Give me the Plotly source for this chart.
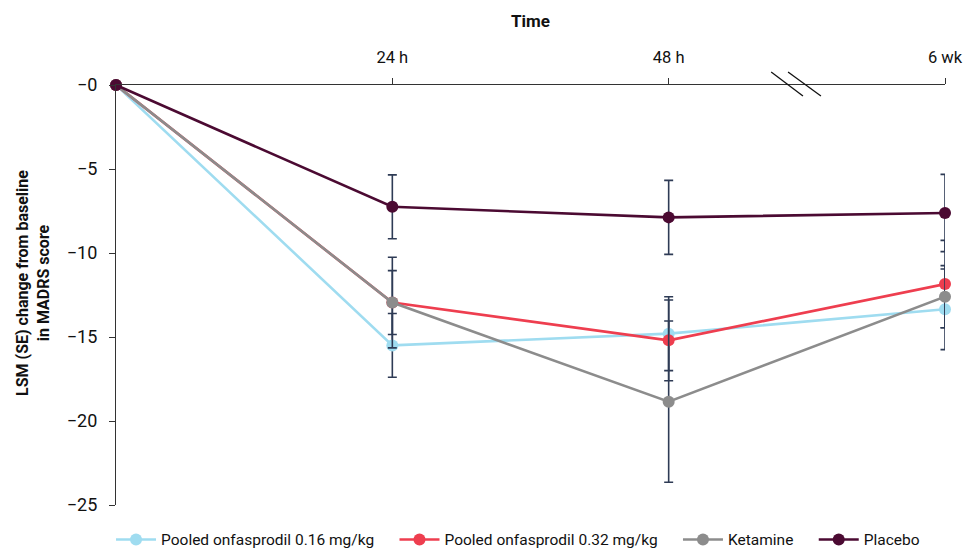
import plotly.graph_objects as go

# Data
time_pos = [0, 1, 2, 3]
time_labels = ["24 h", "48 h", "6 wk"]
time_ticks = [1, 2, 3]

series_names = ["Pooled onfasprodil 0.16 mg/kg", "Pooled onfasprodil 0.32 mg/kg", "Ketamine", "Placebo"]
low_dose = [0, -15.5, -14.8, -13.35]
low_dose_se = [0, 1.9, 2.2, 2.4]
high_dose = [0, -12.95, -15.2, -11.85]
high_dose_se = [0, 1.9, 2.4, 2.6]
ketamine = [0, -12.95, -18.85, -12.6]
ketamine_se = [0, 2.7, 4.8, 1.85]
placebo = [0, -7.25, -7.88, -7.62]
placebo_se = [0, 1.9, 2.2, 2.3]

y_ticks = [0, -5, -10, -15, -20, -25]
y_labels = ["\u22120", "\u22125", "\u221210", "\u221215", "\u221220", "\u221225"]

colors = ["#9FDCF0", "#EE3E4F", "#8C8C8C", "#4B0A32"]
err_color = "#2E3B55"

PAD = "\u00a0" * 4  # extra spacing between legend entries

fig = go.Figure()
for i, (name, vals, se, col) in enumerate(zip(series_names,
                               [low_dose, high_dose, ketamine, placebo],
                               [low_dose_se, high_dose_se, ketamine_se, placebo_se],
                               colors)):
    label = name + (PAD if i < len(series_names) - 1 else "")
    fig.add_trace(go.Scatter(
        x=time_pos, y=vals, name=label, mode="lines+markers",
        line=dict(color=col, width=2.6),
        marker=dict(color=col, size=12),
        error_y=dict(type="data", array=se, color=err_color, thickness=1.6, width=4.5),
        cliponaxis=False,
    ))

# axis break marks on the top axis
for x0, x1 in [(2.371, 2.486), (2.432, 2.551)]:
    fig.add_shape(type="line", xref="x", yref="paper", x0=x0, x1=x1, y0=1.031, y1=0.974,
                  line=dict(color="#111111", width=1.3))

# axis titles
fig.add_annotation(text="<b>Time</b>", xref="paper", yref="paper", x=0.5, y=1.152,
                   xanchor="center", yanchor="middle", showarrow=False, font=dict(size=17))
fig.add_annotation(text="<b>LSM (SE) change from baseline<br>in MADRS score</b>",
                   xref="paper", yref="paper", x=-0.1, y=0.529, textangle=-90,
                   xanchor="center", yanchor="middle", showarrow=False,
                   font=dict(size=16))

fig.update_layout(
    width=965, height=548,
    margin=dict(l=116, r=20, t=85, b=43, autoexpand=False),
    paper_bgcolor="white", plot_bgcolor="white",
    font=dict(family="Roboto", color="#111111", size=15),
    showlegend=True,
    legend=dict(orientation="h", x=-0.006, xanchor="left", y=-0.083, yanchor="middle",
                font=dict(size=15.5), itemwidth=40, tracegroupgap=0),
    xaxis=dict(side="top", range=[0, 3], tickvals=time_ticks, ticktext=time_labels,
               showgrid=False, zeroline=False, showline=True, linecolor="#333333", linewidth=1.2,
               ticks="outside", ticklen=6, tickcolor="#333333", automargin=False,
               ticklabelstandoff=8, tickfont=dict(size=16.5)),
    yaxis=dict(range=[-25, 0], tickvals=y_ticks, ticktext=y_labels,
               showgrid=False, zeroline=False, showline=True, linecolor="#333333", linewidth=1.2,
               ticks="outside", ticklen=6, tickcolor="#333333", automargin=False,
               ticklabelstandoff=8, tickfont=dict(size=18)),
)

fig.write_html("out.html", config={"displayModeBar": False},
               post_script="document.body.style.margin='0';document.body.style.overflow='hidden';")
